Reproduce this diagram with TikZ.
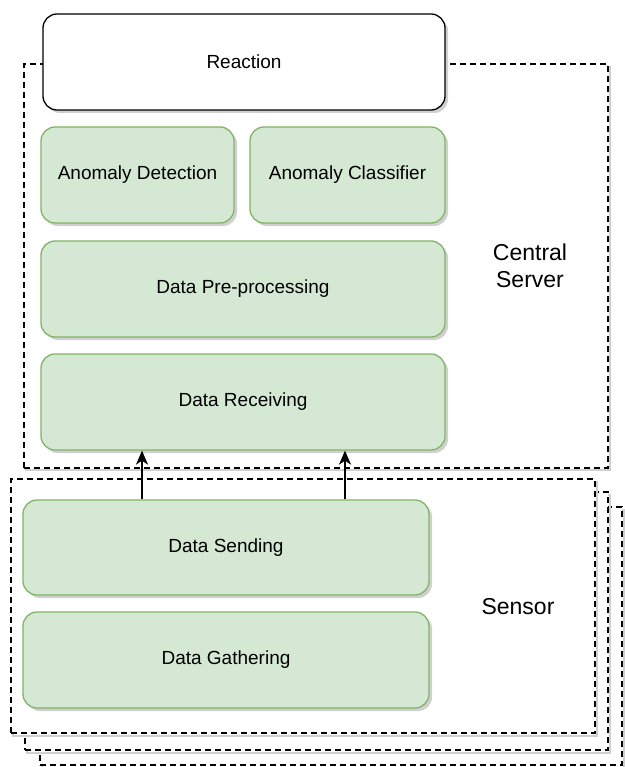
\documentclass[tikz,border=0pt]{standalone}
\usepackage{fontspec}
\setmainfont{Liberation Sans}
\usetikzlibrary{shadows,arrows.meta}
\definecolor{gfill}{HTML}{D5E8D4}
\definecolor{gline}{HTML}{82B366}
\definecolor{shd}{HTML}{D0D0D0}
\tikzset{
  boxbase/.style={rounded corners=14pt, line width=1.3pt, inner sep=0pt,
    font=\fontsize{19}{22}\selectfont,
    drop shadow={shadow xshift=3pt, shadow yshift=-3pt, fill=shd, opacity=1}},
  greenbox/.style={boxbase, draw=gline, fill=gfill},
  whitebox/.style={boxbase, draw=black, fill=white},
  container/.style={draw=black, line width=1.2pt, dash pattern=on 6pt off 4pt, fill=white},
  contshadow/.style={draw=shd, line width=2pt},
  biglabel/.style={font=\fontsize{23}{27}\selectfont, align=center},
  arr/.style={line width=1.6pt, -{Stealth[length=14pt,width=12pt,inset=4pt]}}
}
\begin{document}
\begin{tikzpicture}[x=1pt,y=-1pt]
\useasboundingbox (0,0) rectangle (624,767);
% central server container
\draw[contshadow] (26,67) rectangle (610,470);
\node[container, minimum width=584pt, minimum height=404pt, inner sep=0pt] (cs) at (316,266) {};
\node[biglabel] (cslabel) at (530,266) {Central\\Server};
% sensor stack
\draw[contshadow] (42,510) rectangle (624,768);
\node[container, minimum width=582pt, minimum height=258pt, inner sep=0pt] (s3) at (331,636) {};
\draw[contshadow] (27,495) rectangle (610,753);
\node[container, minimum width=583pt, minimum height=258pt, inner sep=0pt] (s2) at (316.5,621) {};
\draw[contshadow] (13,482) rectangle (597,736);
\node[container, minimum width=584pt, minimum height=254pt, inner sep=0pt] (s1) at (303,606) {};
\node[biglabel] (senslabel) at (518,607) {Sensor};
% boxes
\node[whitebox, minimum width=402pt, minimum height=96pt] (react) at (244,62) {Reaction};
\node[greenbox, minimum width=193pt, minimum height=96pt] (ad) at (137.5,175) {Anomaly Detection};
\node[greenbox, minimum width=195pt, minimum height=96pt] (ac) at (347.5,175) {Anomaly Classifier};
\node[greenbox, minimum width=404pt, minimum height=96pt] (dp) at (243,289) {Data Pre-processing};
\node[greenbox, minimum width=404pt, minimum height=96pt] (dr) at (243,402) {Data Receiving};
\node[greenbox, minimum width=406pt, minimum height=95pt] (ds) at (226,547.5) {Data Sending};
\node[greenbox, minimum width=406pt, minimum height=96pt] (dg) at (226,660) {Data Gathering};
% arrows
\draw[arr] (ds.north -| 142,0) -- (dr.south -| 142,0);
\draw[arr] (ds.north -| 345,0) -- (dr.south -| 345,0);
\end{tikzpicture}
\end{document}
